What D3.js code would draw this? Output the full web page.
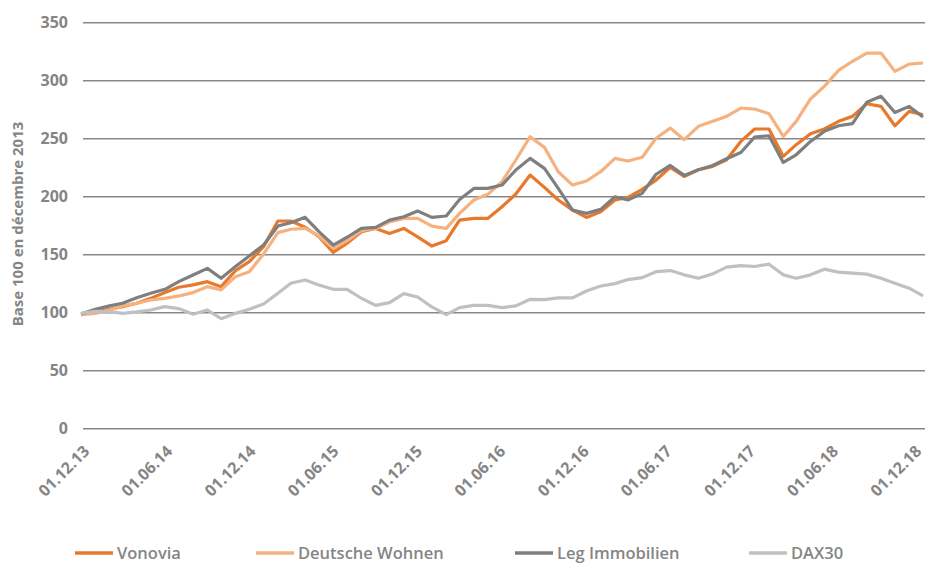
<!DOCTYPE html>
<html>
<head>
<meta charset="utf-8">
<script src="https://cdn.jsdelivr.net/npm/d3@7"></script>
<style>
  body { margin: 0; background: #fff; }
  svg { display: block; }
</style>
</head>
<body>
<div id="chart"></div>
<script>
// monthly values, base 100 = december 2013 (Dec 2013 .. Dec 2018)
const vonovia = [98, 100.6, 102.6, 104.9, 107.8, 112, 117, 121.6, 123.6, 126.4, 122.1, 135.9, 143.7, 156.6, 178.7, 178.7, 173.3, 165.2, 151.7, 159.5,
  169.5, 172.3, 168, 172.3, 165.1, 157.1, 161.7, 179.5, 180.9, 180.9, 191, 202, 218.3, 207.7, 196.8, 188.1, 181.8, 186.7, 196.8, 199.1,
  206, 214, 224.9, 217.1, 222.9, 225.8, 231.5, 247.3, 258, 258, 234.4, 244.5, 253.9, 258, 264.6, 268.9, 279.8, 277.5, 260.8, 273.2, 270.3];
const deutscheWohnen = [98, 99, 102, 105.5, 107.8, 110.6, 112, 114.1, 117, 122.1, 119.3, 130.7, 135, 150.3, 168.7, 171.6, 172.4, 165.8, 155.2, 161.8,
  170.4, 172.3, 178, 180.9, 180.9, 174.3, 172.3, 185.3, 196.8, 201.7, 212.6, 231.3, 251.4, 242.2, 221.2, 209.7, 213.2, 221.2, 232.7, 230.4,
  233.6, 250, 258.8, 248.8, 260.3, 264.6, 268.9, 276.1, 275.2, 271.2, 251.6, 264.6, 283.9, 294.8, 308.6, 316.4, 323.5, 323.5, 307.7, 314, 314.9];
const legImmobilien = [98.6, 102.6, 105.5, 107.8, 112.6, 116.4, 119.8, 126.4, 132.2, 137.9, 129.3, 139.4, 148.6, 158, 174.4, 177.3, 181.9, 169.5, 158, 164.7,
  172.4, 173.2, 179.5, 182.4, 187.3, 181.8, 183, 197.3, 206.8, 206.8, 209.7, 222.7, 232.7, 224.1, 206.8, 188.1, 185.3, 188.7, 199.6, 196.8,
  202.5, 219, 226.6, 218, 222.9, 226.6, 232.4, 237.8, 251.1, 252.2, 229.2, 235.8, 247.3, 256, 260.8, 262.6, 281, 286.2, 272.3, 277.5, 268.3];
const dax30 = [99.1, 100.9, 100.6, 99.1, 100.3, 102, 104.9, 103.2, 98.3, 102, 94.5, 99.1, 102.6, 107.2, 116.4, 125, 127.9, 123.6, 119.8, 119.8,
  112.1, 106, 108.3, 116.1, 113.2, 104.6, 98, 104, 106, 106, 104, 105.5, 111.2, 110.9, 112.4, 112.4, 118.4, 122.7, 124.7, 128.2,
  129.9, 135, 136, 132.3, 129.4, 133.1, 138.9, 140.3, 139.5, 141.5, 132.3, 129.4, 132.3, 137.2, 134.6, 133.7, 132.9, 129.4, 125.1, 120.8, 114.2];

const seriesNames = ["Vonovia", "Deutsche Wohnen", "Leg Immobilien", "DAX30"];
const seriesColors = ["#e8792b", "#f5b281", "#7f7f7f", "#c0c0c2"];
const seriesValues = [vonovia, deutscheWohnen, legImmobilien, dax30];
const yTicks = [0, 50, 100, 150, 200, 250, 300, 350];
const xTickLabels = ["01.12.13", "01.06.14", "01.12.14", "01.06.15", "01.12.15", "01.06.16",
  "01.12.16", "01.06.17", "01.12.17", "01.06.18", "01.12.18"];

const width = 925, height = 563;
const margin = { top: 22, right: 2, bottom: 135, left: 81 };

const parseDate = d3.timeParse("%d.%m.%y");
const xTickDates = xTickLabels.map(parseDate);
const months = d3.timeMonth.range(new Date(2013, 11, 1), new Date(2019, 0, 1));

const svg = d3.select("#chart").append("svg")
    .attr("width", width)
    .attr("height", height);

const x = d3.scaleTime()
    .domain([months[0], months[months.length - 1]])
    .range([margin.left, width - margin.right]);

const y = d3.scaleLinear()
    .domain([0, 350])
    .range([height - margin.bottom + 0.3, margin.top + 0.3]);

const textColor = "#858585";

// y axis with gridlines
const yAxis = svg.append("g")
    .attr("transform", "translate(" + margin.left + ",0)")
    .call(d3.axisLeft(y).tickValues(yTicks).tickSize(-(width - margin.left + 2)).tickPadding(13));
yAxis.select(".domain").remove();
yAxis.selectAll(".tick line")
    .attr("x1", 2)
    .attr("stroke", "#878787")
    .attr("stroke-width", 1.4);
yAxis.selectAll(".tick text")
    .attr("fill", textColor)
    .style("font-family", "'Open Sans', sans-serif")
    .style("font-weight", "bold")
    .style("font-size", "16px");

// x axis labels (rotated, pulled in a bit towards the right edge)
const xAxis = svg.append("g")
    .attr("transform", "translate(0," + y(0) + ")")
    .call(d3.axisBottom(x).tickValues(xTickDates).tickSize(0).tickFormat(d3.timeFormat("%d.%m.%y")));
xAxis.select(".domain").remove();
xAxis.selectAll(".tick text")
    .attr("fill", textColor)
    .attr("x", 0).attr("y", 0).attr("dy", 0)
    .attr("transform", (d, i) => "translate(" + (9 - i) + ",24) rotate(-45)")
    .style("text-anchor", "end")
    .style("font-family", "'Open Sans', sans-serif")
    .style("font-weight", "bold")
    .style("font-size", "16px");

// y axis title
svg.append("text")
    .attr("transform", "translate(23,224) rotate(-90)")
    .attr("text-anchor", "middle")
    .attr("fill", textColor)
    .style("font-family", "'Open Sans', sans-serif")
    .style("font-weight", "bold")
    .style("font-size", "15px")
    .text("Base 100 en décembre 2013");

// lines
const line = d3.line()
    .x((d, i) => x(months[i]))
    .y(d => y(d));

seriesValues.forEach(function (vals, k) {
    svg.append("path")
        .datum(vals)
        .attr("fill", "none")
        .attr("stroke", seriesColors[k])
        .attr("stroke-width", 3.2)
        .attr("stroke-linejoin", "round")
        .attr("d", line);
});

// legend
const legendX = [75, 256, 515, 749];
const legend = svg.append("g");
seriesNames.forEach(function (name, k) {
    legend.append("line")
        .attr("x1", legendX[k]).attr("x2", legendX[k] + 38)
        .attr("y1", 553).attr("y2", 553)
        .attr("stroke", seriesColors[k])
        .attr("stroke-width", 3.5);
    legend.append("text")
        .attr("x", legendX[k] + 42)
        .attr("y", 559)
        .attr("fill", textColor)
        .style("font-family", "'Open Sans', sans-serif")
        .style("font-weight", 600)
        .style("font-size", "16.5px")
        .text(name);
});
</script>
</body>
</html>
